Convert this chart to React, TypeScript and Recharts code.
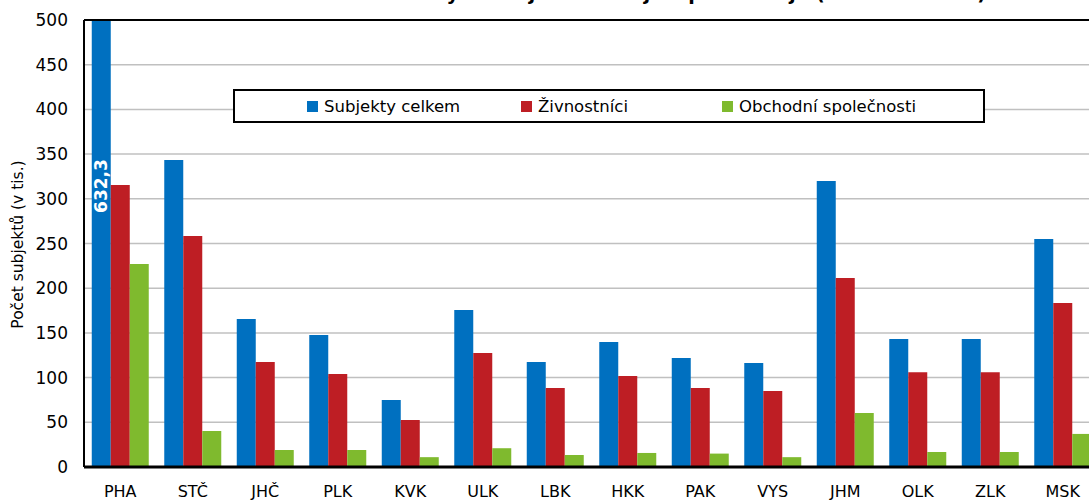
import { BarChart, Bar, XAxis, YAxis, CartesianGrid, Legend, LabelList, ReferenceLine } from "recharts";

const kraje = ["PHA", "STČ", "JHČ", "PLK", "KVK", "ULK", "LBK", "HKK", "PAK", "VYS", "JHM", "OLK", "ZLK", "MSK"];
const subjektyCelkem = [632.3, 343.4, 165.5, 147.7, 75, 175.6, 117.4, 139.8, 122, 116.3, 320, 143.2, 143.2, 255];
const zivnostnici = [315.4, 258.4, 117.4, 104, 52.6, 127.5, 88.4, 101.8, 88.4, 85, 211.4, 106, 106, 183.4];
const obchodniSpolecnosti = [227, 40.3, 19, 19, 11, 21, 13.4, 15.7, 15, 11, 60.4, 16.8, 16.8, 37];
const yTicks = [0, 50, 100, 150, 200, 250, 300, 350, 400, 450, 500];
const seriesOrder = ["celkem", "zivnostnici", "spolecnosti"];

const data = kraje.map((k, i) => ({
    kraj: k,
    celkem: subjektyCelkem[i],
    zivnostnici: zivnostnici[i],
    spolecnosti: obchodniSpolecnosti[i],
}));

const FONT = "'DejaVu Sans', Verdana, sans-serif";
const COLORS = { celkem: "#0070c0", zivnostnici: "#be1e24", spolecnosti: "#7fba2e" };

// popisek jen pro PHA (sloupec přetéká přes osu)
const renderPhaLabel = (props: any) => {
    const { x, y, width, height, index, value } = props;
    if (index !== 0) return null;
    const cx = x + width / 2;
    const cy = y + height - 281;
    return (
        <text
            x={cx}
            y={cy}
            transform={`rotate(-90 ${cx} ${cy})`}
            textAnchor="middle"
            dominantBaseline="central"
            fill="#fff"
            fontWeight="bold"
            fontSize={17}
            fontFamily={FONT}
        >
            {String(value).replace(".", ",")}
        </text>
    );
};

const slotWidths = [214, 201, 230];

export default function App() {
    return (
        <div style={{ position: "absolute", left: 0, top: 0, width: 1089, height: 500, overflow: "hidden", background: "#fff" }}>
            <div
                style={{
                    position: "absolute",
                    left: 0,
                    width: 986,
                    top: -19,
                    textAlign: "right",
                    whiteSpace: "nowrap",
                    fontFamily: FONT,
                    fontWeight: "bold",
                    fontSize: 19,
                    lineHeight: "24px",
                    color: "#000",
                }}
            >
                Počet ekonomických subjektů v krajích podle krajů (k 31. 12. 2014)
            </div>
            <BarChart
                width={1100}
                height={500}
                data={data}
                margin={{ top: 20, right: 1, left: 0, bottom: 0 }}
                barCategoryGap="10.7%"
                barGap={0}
            >
                <CartesianGrid vertical={false} stroke="#c0c0c0" strokeWidth={1.5} />
                <XAxis
                    dataKey="kraj"
                    height={33}
                    tickLine={false}
                    axisLine={{ stroke: "#000", strokeWidth: 3 }}
                    tick={{ fill: "#000", fontSize: 16, fontFamily: FONT }}
                    tickMargin={13}
                    interval={0}
                />
                <YAxis
                    width={84}
                    domain={[0, 500]}
                    ticks={yTicks}
                    allowDataOverflow
                    tickLine={false}
                    axisLine={{ stroke: "#000", strokeWidth: 2 }}
                    tick={{ fill: "#000", fontSize: 17, fontFamily: FONT }}
                    tickMargin={10}
                    label={{
                        value: "Počet subjektů (v tis.)",
                        content: (p: any) => {
                            const vb = p.viewBox;
                            const cx = 18;
                            const cy = vb.y + vb.height / 2 + 1;
                            return (
                                <text
                                    x={cx}
                                    y={cy}
                                    transform={`rotate(-90 ${cx} ${cy})`}
                                    textAnchor="middle"
                                    dominantBaseline="central"
                                    fontSize={15.5}
                                    fontFamily={FONT}
                                    fill="#000"
                                >
                                    Počet subjektů (v tis.)
                                </text>
                            );
                        },
                    }}
                />
                <ReferenceLine y={500} stroke="#000" strokeWidth={2} />
                <Bar dataKey="celkem" name="Subjekty celkem" fill={COLORS.celkem} isAnimationActive={false}>
                    <LabelList dataKey="celkem" content={renderPhaLabel} />
                </Bar>
                <Bar dataKey="zivnostnici" name="Živnostníci" fill={COLORS.zivnostnici} isAnimationActive={false} />
                <Bar dataKey="spolecnosti" name="Obchodní společnosti" fill={COLORS.spolecnosti} isAnimationActive={false} />
                <Legend
                    layout="horizontal"
                    verticalAlign="middle"
                    align="center"
                    wrapperStyle={{ left: 233, top: 89, width: 752, height: 34 }}
                    content={({ payload }: any) => {
                        const items = [...(payload ?? [])].sort(
                            (a: any, b: any) => seriesOrder.indexOf(a.dataKey) - seriesOrder.indexOf(b.dataKey)
                        );
                        return (
                            <div
                                style={{
                                    boxSizing: "border-box",
                                    width: 752,
                                    height: 34,
                                    border: "2px solid #000",
                                    background: "#fff",
                                    display: "flex",
                                    alignItems: "center",
                                    paddingLeft: 72,
                                    fontFamily: FONT,
                                    fontSize: 16.5,
                                    color: "#000",
                                }}
                            >
                                {items.map((entry: any, index: number) => (
                                    <div
                                        key={`item-${index}`}
                                        style={{ display: "flex", alignItems: "center", width: slotWidths[index], whiteSpace: "nowrap" }}
                                    >
                                        <div style={{ width: 11, height: 11, background: entry.color, marginRight: 6 }} />
                                        <span>{entry.value}</span>
                                    </div>
                                ))}
                            </div>
                        );
                    }}
                />
            </BarChart>
        </div>
    );
}
